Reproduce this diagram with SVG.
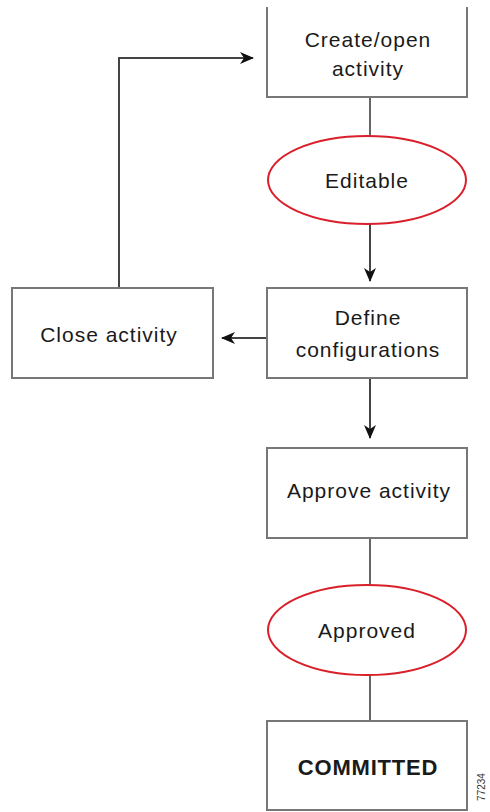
<svg xmlns="http://www.w3.org/2000/svg" width="490" height="812" viewBox="0 0 490 812">
<style>
.box{fill:#fff;stroke:#777;stroke-width:2}
.ell{fill:#fff;stroke:#d9202a;stroke-width:2}
.t{font-family:"Liberation Sans",Arial,sans-serif;font-size:21px;fill:#1a1a1a;text-anchor:middle;letter-spacing:1px}
.b{font-weight:bold;font-size:22px;letter-spacing:0.8px}
.ln{fill:none;stroke:#666;stroke-width:2}
.ar{fill:none;stroke:#444;stroke-width:2}
.id{font-family:"Liberation Sans",Arial,sans-serif;font-size:10px;fill:#333;text-anchor:middle}
</style>
<defs>
<marker id="ah" markerWidth="14" markerHeight="12" refX="13" refY="6" orient="auto" markerUnits="userSpaceOnUse">
<path d="M0,0 L14,6 L0,12 L4,6 Z" fill="#111"/>
</marker>
</defs>
<rect width="490" height="812" fill="#fff"/>
<g id="connectors">
<line class="ln" x1="370" y1="97" x2="370" y2="136"/>
<line class="ar" x1="370" y1="224" x2="370" y2="281" marker-end="url(#ah)"/>
<line class="ar" x1="267" y1="338" x2="222" y2="338" marker-end="url(#ah)"/>
<polyline class="ar" points="119,288 119,58 253,58" marker-end="url(#ah)"/>
<line class="ar" x1="370" y1="378" x2="370" y2="438" marker-end="url(#ah)"/>
<line class="ln" x1="370" y1="538" x2="370" y2="585"/>
<line class="ln" x1="370" y1="675" x2="370" y2="721"/>
</g>
<g id="create">
<path class="box" d="M267,7 V97 H467 V7"/>
<text class="t" x="368" y="47">Create/open</text>
<text class="t" x="368" y="76">activity</text>
</g>
<g id="editable">
<ellipse class="ell" cx="367" cy="180" rx="99" ry="44"/>
<text class="t" x="367" y="188">Editable</text>
</g>
<g id="define">
<rect class="box" x="267" y="288" width="200" height="90"/>
<text class="t" x="368" y="325">Define</text>
<text class="t" x="368" y="357">configurations</text>
</g>
<g id="close">
<rect class="box" x="12" y="288" width="201" height="90"/>
<text class="t" x="109" y="342">Close activity</text>
</g>
<g id="approve">
<rect class="box" x="267" y="448" width="200" height="90"/>
<text class="t" x="369" y="498">Approve activity</text>
</g>
<g id="approved">
<ellipse class="ell" cx="367" cy="630" rx="99" ry="45"/>
<text class="t" x="367" y="638">Approved</text>
</g>
<g id="committed">
<rect class="box" x="267" y="721" width="200" height="89"/>
<text class="t b" x="368" y="775">COMMITTED</text>
</g>
<text class="id" transform="translate(485,787) rotate(-90)">77234</text>
</svg>
